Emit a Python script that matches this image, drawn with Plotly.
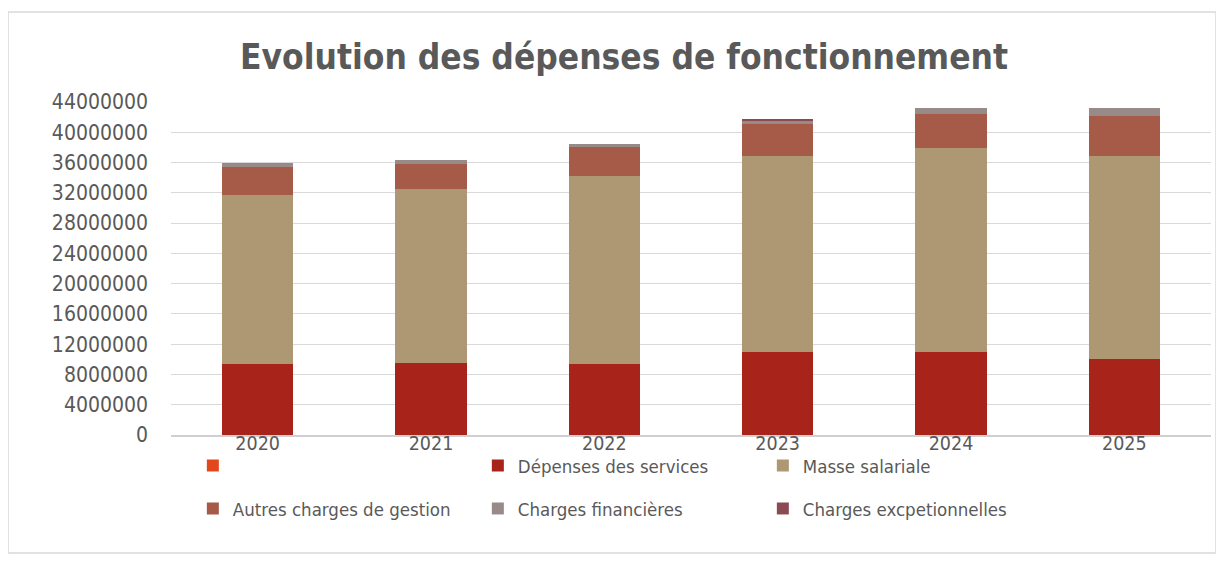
import plotly.graph_objects as go

years = ["2020", "2021", "2022", "2023", "2024", "2025"]

# montants (en euros)
serie_vide = [0, 0, 0, 0, 0, 0]
depenses_services = [9380000, 9470000, 9380000, 11000000, 11000000, 10100000]
masse_salariale = [22300000, 22980000, 24800000, 25870000, 26960000, 26800000]
autres_charges = [3700000, 3420000, 3850000, 4230000, 4390000, 5260000]
charges_financieres = [530000, 470000, 400000, 400000, 900000, 1000000]
charges_exceptionnelles = [0, 0, 0, 250000, 0, 0]

y_ticks = list(range(0, 44000001, 4000000))

FONT = "Liberation Sans Narrow, Arial Narrow, DejaVu Sans Condensed, sans-serif"
GREY_TEXT = "#595959"

series = [
    ("", serie_vide, "#e2481c", "legend"),
    ("Dépenses des services", depenses_services, "#a8241b", "legend"),
    ("Masse salariale", masse_salariale, "#ad9873", "legend"),
    ("Autres charges de gestion", autres_charges, "#a65a48", "legend2"),
    ("Charges financières", charges_financieres, "#978a89", "legend2"),
    ("Charges excpetionnelles", charges_exceptionnelles, "#8c4a52", "legend2"),
]

fig = go.Figure()
for name, values, color, leg in series:
    fig.add_trace(go.Bar(
        x=years, y=values, name=name,
        marker=dict(color=color, line=dict(color=color, width=0)),
        legend=leg,
        hovertemplate="%{x}<br>" + (name or "-") + " : %{y:,.0f}<extra></extra>",
    ))

legend_style = dict(
    orientation="h",
    xanchor="left",
    yanchor="middle",
    entrywidth=240,
    entrywidthmode="pixels",
    font=dict(family=FONT, size=18.5, color=GREY_TEXT),
    bgcolor="rgba(0,0,0,0)",
    itemclick=False,
    traceorder="normal",
)

# la page html a une marge de 8px : la figure fait donc 1216x556
fig.update_layout(
    width=1216,
    height=556,
    barmode="stack",
    bargap=0.59,
    paper_bgcolor="white",
    plot_bgcolor="white",
    margin=dict(l=163, r=13, t=94, b=129),
    font=dict(family=FONT, color=GREY_TEXT),
    title=dict(
        text="<b>Evolution des dépenses de fonctionnement</b>",
        x=0.5066, xanchor="center", xref="container",
        y=1 - 49 / 556, yref="container", yanchor="middle",
        font=dict(family=FONT, size=35, color=GREY_TEXT),
    ),
    legend=dict(x=0.021, y=-0.093, **legend_style),
    legend2=dict(x=0.021, y=-0.222, **legend_style),
    shapes=[dict(
        type="rect", xref="paper", yref="paper",
        x0=-0.1567, x1=1.0048, y0=-0.354, y1=1.27,
        line=dict(color="#d9d9d9", width=1.5), fillcolor="rgba(0,0,0,0)",
        layer="below",
    )],
)

fig.update_yaxes(
    range=[0, 44000000],
    tickvals=y_ticks,
    ticktext=[str(v) for v in y_ticks],
    showgrid=True, gridcolor="#d9d9d9", gridwidth=1,
    zeroline=False,
    ticklabelstandoff=22,
    tickfont=dict(family=FONT, size=21, color=GREY_TEXT),
)
fig.update_xaxes(
    showline=True, linecolor="#d0d0d0", linewidth=2,
    showgrid=False,
    ticklabelstandoff=-10,
    tickfont=dict(family=FONT, size=19.5, color=GREY_TEXT),
)

fig.write_html("out.html")
